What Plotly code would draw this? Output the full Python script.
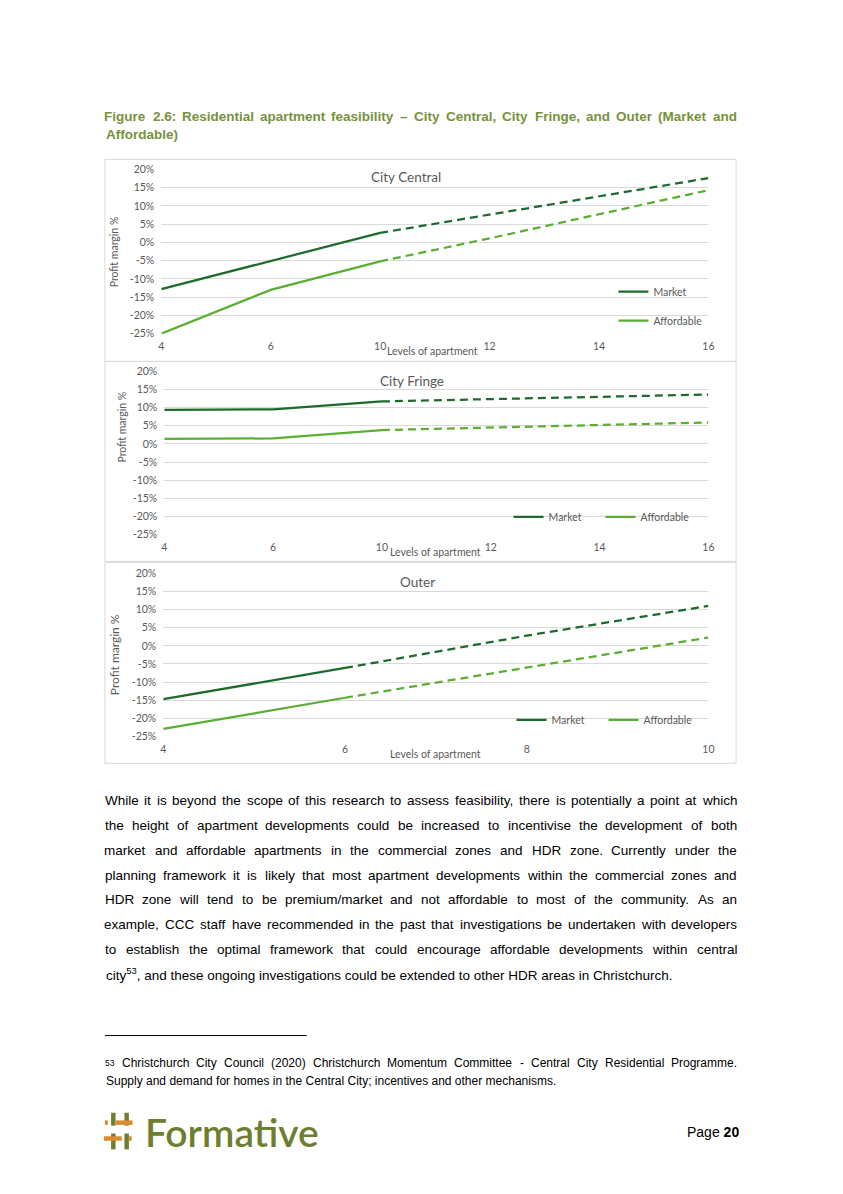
import plotly.graph_objects as go

W, H = 843, 1194
def X(px): return px / W
def Y(py): return 1 - py / H

# ---------------- data ----------------
central_levels = ["4", "6", "10", "12", "14", "16"]
central_built = ["4", "6", "10"]
central_proj = ["10", "12", "14", "16"]
central_market_built = [-12.8, -5.0, 2.6]
central_market_proj = [2.6, 7.6, 12.7, 17.6]
central_afford_built = [-25.0, -13.0, -5.2]
central_afford_proj = [-5.2, 1.1, 7.7, 14.3]

fringe_levels = ["4", "6", "10", "12", "14", "16"]
fringe_built = ["4", "6", "10"]
fringe_proj = ["10", "12", "14", "16"]
fringe_market_built = [9.4, 9.5, 11.7]
fringe_market_proj = [11.7, 12.3, 13.0, 13.6]
fringe_afford_built = [1.4, 1.5, 3.8]
fringe_afford_proj = [3.8, 4.5, 5.2, 5.9]

outer_levels = ["4", "6", "8", "10"]
outer_built = ["4", "6"]
outer_proj = ["6", "8", "10"]
outer_market_built = [-14.7, -6.1]
outer_market_proj = [-6.1, 2.8, 11.0]
outer_afford_built = [-22.9, -14.3]
outer_afford_proj = [-14.3, -6.0, 2.3]

y_ticks = [-25, -20, -15, -10, -5, 0, 5, 10, 15, 20]
y_ticktext = [f"{v}%" for v in y_ticks]

chart_titles = ["City Central", "City Fringe", "Outer"]
series_names = ["Market", "Affordable"]

caption_lines = [
    "Figure 2.6: Residential apartment feasibility – City Central, City Fringe, and Outer (Market and",
    "Affordable)",
]
body_lines = [
    "While it is beyond the scope of this research to assess feasibility, there is potentially a point at which",
    "the height of apartment developments could be increased to incentivise the development of both",
    "market and affordable apartments in the commercial zones and HDR zone. Currently under the",
    "planning framework it is likely that most apartment developments within the commercial zones and",
    "HDR zone will tend to be premium/market and not affordable to most of the community. As an",
    "example, CCC staff have recommended in the past that investigations be undertaken with developers",
    "to establish the optimal framework that could encourage affordable developments within central",
    "city<sup>53</sup>, and these ongoing investigations could be extended to other HDR areas in Christchurch.",
]
footnote_lines = [
    "<sup>53</sup> Christchurch City Council (2020) Christchurch Momentum Committee - Central City Residential Programme.",
    "Supply and demand for homes in the Central City; incentives and other mechanisms.",
]

# ---------------- styles ----------------
MARKET = "#1D6B2C"
AFFORD = "#5AAE34"
GREY = "#595959"
GRID = "#D9D9D9"
CHART_FONT = "Lato, Liberation Sans, sans-serif"
TEXT_FONT = "Liberation Sans, Arial, sans-serif"
CAPTION = "#76923C"
DASH = "8px,5px"
LW = 2.25

fig = go.Figure()

panels = [
    dict(ax="", levels=central_levels, built=central_built, proj=central_proj,
         mb=central_market_built, mp=central_market_proj,
         ab=central_afford_built, ap=central_afford_proj,
         xd=(160, 713), yd=(331, 165), legend="legend"),
    dict(ax="2", levels=fringe_levels, built=fringe_built, proj=fringe_proj,
         mb=fringe_market_built, mp=fringe_market_proj,
         ab=fringe_afford_built, ap=fringe_afford_proj,
         xd=(163, 713), yd=(534, 369), legend="legend2"),
    dict(ax="3", levels=outer_levels, built=outer_built, proj=outer_proj,
         mb=outer_market_built, mp=outer_market_proj,
         ab=outer_afford_built, ap=outer_afford_proj,
         xd=(162, 713), yd=(738, 573), legend="legend3"),
]

layout_axes = {}
for i, p in enumerate(panels):
    xa, ya = "x" + p["ax"], "y" + p["ax"]
    for name, color, b, pr in [(series_names[0], MARKET, p["mb"], p["mp"]),
                               (series_names[1], AFFORD, p["ab"], p["ap"])]:
        fig.add_trace(go.Scatter(x=p["built"], y=b, mode="lines", name=name,
                                 line=dict(color=color, width=LW),
                                 xaxis=xa, yaxis=ya, legend=p["legend"],
                                 legendgroup=f"{name}{i}", hoverinfo="skip"))
        fig.add_trace(go.Scatter(x=p["proj"], y=pr, mode="lines", name=name,
                                 line=dict(color=color, width=LW, dash=DASH),
                                 xaxis=xa, yaxis=ya, showlegend=False,
                                 legendgroup=f"{name}{i}", hoverinfo="skip"))
    layout_axes["xaxis" + p["ax"]] = dict(
        domain=[X(p["xd"][0]), X(p["xd"][1])], anchor=ya, type="category",
        categoryorder="array", categoryarray=p["levels"],
        range=[0, len(p["levels"]) - 1], showgrid=False, zeroline=False,
        showline=False, ticks="", ticklabelstandoff=5,
        tickfont=dict(family=CHART_FONT, size=10.5, color=GREY), fixedrange=True)
    layout_axes["yaxis" + p["ax"]] = dict(
        domain=[Y(p["yd"][0]), Y(p["yd"][1])], anchor=xa, range=[-25, 20],
        tickvals=y_ticks, ticktext=y_ticktext, showgrid=True, gridcolor=GRID,
        gridwidth=1, zeroline=False, showline=False, ticks="", ticklabelstandoff=6,
        tickfont=dict(family=CHART_FONT, size=10.5, color=GREY), fixedrange=True)

legend_font = dict(family=CHART_FONT, size=10.5, color=GREY)
fig.update_layout(
    **layout_axes,
    legend=dict(x=X(617), y=Y(274), xanchor="left", yanchor="top", orientation="v",
                bgcolor="rgba(0,0,0,0)", font=legend_font, tracegroupgap=10,
                itemwidth=30, traceorder="grouped"),
    legend2=dict(x=X(511), y=Y(516), xanchor="left", yanchor="middle", orientation="h",
                 bgcolor="rgba(0,0,0,0)", font=legend_font, itemwidth=30,
                 entrywidth=47, traceorder="normal"),
    legend3=dict(x=X(514), y=Y(721), xanchor="left", yanchor="middle", orientation="h",
                 bgcolor="rgba(0,0,0,0)", font=legend_font, itemwidth=30,
                 entrywidth=47, traceorder="normal"),
)

shapes = []
annotations = []

# panel frames
for top, bot in [(155, 359), (359, 561), (562, 765)]:
    shapes.append(dict(type="rect", xref="paper", yref="paper", x0=X(103), x1=X(741),
                       y0=Y(bot), y1=Y(top), line=dict(color=GRID, width=1), layer="below"))

# chart titles, axis titles
for title, (tx, ty) in zip(chart_titles, [(407, 173), (413, 379), (419, 582)]):
    annotations.append(dict(text=title, x=X(tx), y=Y(ty), xref="paper", yref="paper",
                            showarrow=False, xanchor="center", yanchor="middle",
                            font=dict(family=CHART_FONT, size=13.5, color=GREY)))
for (tx, ty) in [(434, 349), (437, 552), (437, 756)]:
    annotations.append(dict(text="Levels of apartment", x=X(tx), y=Y(ty), xref="paper",
                            yref="paper", showarrow=False, xanchor="center", yanchor="middle",
                            font=dict(family=CHART_FONT, size=10.5, color=GREY)))
for (tx, ty, fs) in [(112, 248, 10.5), (120, 425, 10.5), (113, 655, 12)]:
    annotations.append(dict(text="Profit margin %", x=X(tx), y=Y(ty), xref="paper",
                            yref="paper", showarrow=False, textangle=-90,
                            xanchor="center", yanchor="middle",
                            font=dict(family=CHART_FONT, size=fs, color=GREY)))

# ---------------- page text (justified) ----------------
AR = {' ': 278, '!': 278, '"': 355, "'": 191, '(': 333, ')': 333, ',': 278, '-': 333,
      '.': 278, '/': 278, ':': 278, ';': 278, '?': 556, '–': 556, '%': 889}
AB = {' ': 278, '(': 333, ')': 333, ',': 278, '-': 333, '.': 278, ':': 333, '–': 556,
      ';': 333, '/': 278}
for c, w in zip("ABCDEFGHIJKLMNOPQRSTUVWXYZ",
                [667, 667, 722, 722, 667, 611, 778, 722, 278, 500, 667, 556, 833, 722, 778,
                 667, 778, 722, 667, 611, 722, 667, 944, 667, 667, 611]):
    AR[c] = w
for c, w in zip("ABCDEFGHIJKLMNOPQRSTUVWXYZ",
                [722, 722, 722, 722, 667, 611, 778, 722, 278, 556, 722, 611, 833, 722, 778,
                 667, 778, 722, 667, 611, 722, 667, 944, 667, 667, 611]):
    AB[c] = w
for c, w in zip("abcdefghijklmnopqrstuvwxyz",
                [556, 556, 500, 556, 556, 278, 556, 556, 222, 222, 500, 222, 833, 556, 556,
                 556, 556, 333, 500, 278, 556, 500, 722, 500, 500, 500]):
    AR[c] = w
for c, w in zip("abcdefghijklmnopqrstuvwxyz",
                [556, 611, 556, 611, 556, 333, 611, 611, 278, 278, 556, 278, 889, 611, 611,
                 611, 611, 389, 556, 333, 611, 556, 778, 556, 556, 500]):
    AB[c] = w
for d in "0123456789":
    AR[d] = 556
    AB[d] = 556


def word_em(word, bold):
    table = AB if bold else AR
    total, scale, i = 0.0, 1.0, 0
    while i < len(word):
        if word.startswith("<sup>", i):
            scale = 0.7; i += 5; continue
        if word.startswith("</sup>", i):
            scale = 1.0; i += 6; continue
        total += table.get(word[i], 556) * scale
        i += 1
    return total / 1000.0


def fit_size(lines, bold, cap, gap_em, x0=103, x1=742):
    best = cap
    for ln in lines:
        words = ln.split(" ")
        em = sum(word_em(w, bold) for w in words)
        s = (x1 - x0) / (em + gap_em * (len(words) - 1))
        best = min(best, s)
    return best


def place(line, y, size, bold, color, justify, x0=103, x1=742):
    fnt = dict(family=TEXT_FONT, size=size, color=color, weight=700 if bold else 400)
    if not justify:
        annotations.append(dict(text=line, x=X(x0), y=Y(y), xref="paper", yref="paper",
                                showarrow=False, xanchor="left", yanchor="middle",
                                font=fnt, borderpad=0))
        return
    words = line.split(" ")
    widths = [word_em(w, bold) * size for w in words]
    gap = (x1 - x0 - sum(widths)) / (len(words) - 1)
    pos = x0
    for w, wd in zip(words, widths):
        annotations.append(dict(text=w, x=X(pos + wd / 2), y=Y(y), xref="paper",
                                yref="paper", showarrow=False, xanchor="center",
                                yanchor="middle", font=fnt, borderpad=0))
        pos += wd + gap


cap_size = fit_size(caption_lines[:1], True, 13.5, 0.2)
place(caption_lines[0], 112, cap_size, True, CAPTION, True)
place(caption_lines[1], 130, cap_size, True, CAPTION, False)

body_size = fit_size(body_lines[:-1], False, 13.5, 0.2)
for k, ln in enumerate(body_lines):
    place(ln, 803 + 25.0 * k, body_size, False, "#000000", k < len(body_lines) - 1)

foot_size = fit_size(footnote_lines[:1], False, 12.0, 0.2)
place(footnote_lines[0], 1068, foot_size, False, "#000000", True)
place(footnote_lines[1], 1086, foot_size, False, "#000000", False)

shapes.append(dict(type="line", xref="paper", yref="paper", x0=X(103), x1=X(307),
                   y0=Y(1040), y1=Y(1040), line=dict(color="#000000", width=1)))

# footer: logo + page number
OLIVE = "#6E7E30"
ORANGE = "#D98A2B"
for (xa, ya, xb, yb, col) in [
    (111.5, 1118, 111.5, 1131, OLIVE), (125, 1118, 125, 1131, OLIVE),
    (111.5, 1139, 111.5, 1155, OLIVE), (125, 1139, 125, 1155, OLIVE),
    (114, 1128, 131, 1128, ORANGE), (103, 1128, 106, 1128, ORANGE),
    (102, 1144, 120, 1144, ORANGE), (127, 1144, 130, 1144, ORANGE)]:
    shapes.append(dict(type="line", xref="paper", yref="paper", x0=X(xa), x1=X(xb),
                       y0=Y(ya), y1=Y(yb), line=dict(color=col, width=4.5)))
annotations.append(dict(text="Formative", x=X(143), y=Y(1137), xref="paper", yref="paper",
                        showarrow=False, xanchor="left", yanchor="middle", borderpad=0,
                        font=dict(family="Lato, sans-serif", size=39, color=OLIVE, weight=600)))
annotations.append(dict(text="Page <b>20</b>", x=X(745), y=Y(1137), xref="paper",
                        yref="paper", showarrow=False, xanchor="right", yanchor="middle",
                        borderpad=0, font=dict(family=TEXT_FONT, size=14, color="#000000")))

fig.update_layout(
    width=W, height=H, autosize=False,
    margin=dict(l=0, r=0, t=0, b=0, pad=0),
    paper_bgcolor="white", plot_bgcolor="white",
    shapes=shapes, annotations=annotations,
    font=dict(family=CHART_FONT, color=GREY),
    hovermode=False,
)

fig.write_html("out.html", config={"displayModeBar": False},
               post_script="document.body.style.margin='0';document.body.style.padding='0';"
                           "document.body.style.overflow='hidden';")
